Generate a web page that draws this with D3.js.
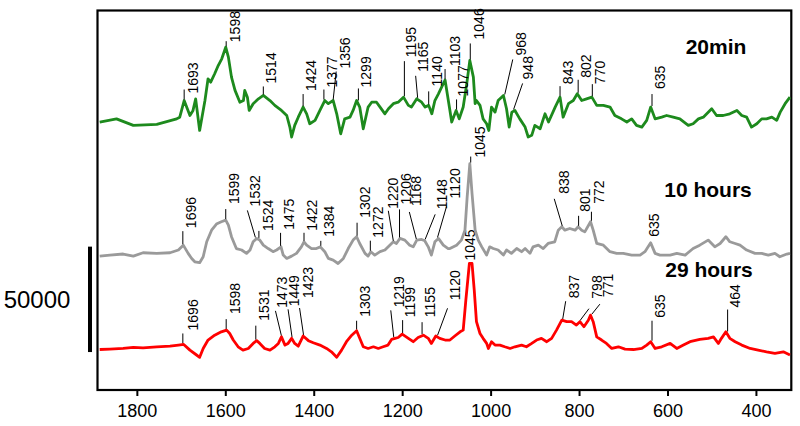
<!DOCTYPE html>
<html>
<head>
<meta charset="utf-8">
<script src="https://cdn.jsdelivr.net/npm/d3@7"></script>
<style>
  html, body { margin: 0; padding: 0; background: #fff; }
  svg { display: block; }
  text { font-family: "Liberation Sans", Arial, Helvetica, sans-serif; }
</style>
</head>
<body>
<svg id="chart" width="800" height="426"></svg>
<script>
// ---------------- DATA (intensity in thousands of counts, offsets included) ----------------
const seriesNames = ["20min", "10 hours", "29 hours"];
const xTicks = [1800, 1600, 1400, 1200, 1000, 800, 600, 400];
const scaleBarCounts = 50000;
const scaleBarStart = 18; // kcounts

const greenWn = [1884,1846,1808,1755,1710,1703,1693,1680,1673,1667,1658,1646,1639,1633,1624,1616,1608,1599,1593,1586,1578,1567,1559,1556,1550,1546,1537,1525,1514,1499,1488,1473,1461,1454,1450,1443,1435,1424,1416,1409,1397,1386,1375,1367,1356,1348,1339,1330,1318,1311,1303,1296,1288,1277,1269,1258,1250,1239,1231,1220,1209,1197,1186,1179,1167,1156,1148,1140,1133,1126,1118,1110,1103,1092,1088,1078,1071,1062,1054,1047,1039,1035,1032,1024,1017,1009,1004,998,990,983,971,964,958,952,945,934,922,915,907,900,888,877,869,854,843,836,824,813,804,794,783,771,760,745,730,719,704,692,681,670,658,647,638,628,613,602,587,572,553,542,530,519,500,489,474,459,443,432,421,410,398,387,376,364,353,345,334,323];
const greenInt = [127.1,128.6,125.5,126.0,128.6,129.4,137.3,130.2,132.6,138.1,123.1,137.3,147.6,146.0,150.0,153.9,157.1,162.6,157.9,148.4,142.1,136.5,137.3,142.1,138.9,132.6,135.8,138.1,139.7,137.3,135.0,132.6,130.2,124.7,120.0,125.5,129.4,134.2,131.0,126.3,127.9,132.6,137.3,135.8,137.3,131.0,121.5,128.6,129.4,132.6,137.3,134.2,123.9,134.2,136.5,136.5,134.2,131.0,133.4,135.8,136.5,138.9,135.0,134.2,138.1,136.5,134.2,135.0,131.0,137.3,140.5,144.0,147.0,132.6,127.1,132.6,128.6,134.2,145.2,156.3,148.4,135.8,137.3,135.0,128.6,126.3,123.1,134.2,131.8,137.3,139.7,133.4,124.7,131.8,132.6,128.6,124.7,120.0,120.8,125.5,123.9,131.0,127.1,134.2,138.9,129.4,135.8,137.3,140.5,137.3,138.1,138.9,135.0,135.0,134.2,130.2,128.6,127.1,128.6,125.5,124.7,127.9,134.2,128.6,129.4,130.2,129.4,128.6,125.5,126.3,128.6,129.4,133.4,130.2,130.2,131.0,132.6,130.2,129.4,124.7,126.3,128.6,128.6,129.4,127.9,131.8,135.8,138.9];

const grayWn = [1884,1861,1831,1808,1786,1755,1725,1706,1695,1684,1676,1669,1658,1650,1642,1631,1620,1609,1599,1593,1586,1575,1563,1552,1544,1537,1529,1522,1514,1503,1492,1484,1474,1469,1461,1450,1439,1428,1422,1416,1405,1394,1385,1375,1367,1356,1345,1333,1322,1311,1303,1296,1284,1277,1271,1262,1250,1239,1228,1220,1213,1205,1194,1183,1175,1167,1156,1149,1141,1134,1126,1118,1107,1096,1092,1077,1066,1058,1053,1047,1042,1035,1028,1020,1009,1002,994,983,971,964,953,941,930,922,911,904,892,881,870,855,847,839,832,821,809,802,794,787,774,768,760,745,730,715,700,681,662,651,638,628,617,594,579,560,542,527,508,493,481,468,459,447,436,421,402,387,372,357,346,330,323];
const grayInt = [63.5,64.0,64.5,63.5,65.1,64.8,65.1,66.4,68.7,64.8,62.4,60.8,60.4,63.2,70.3,75.8,78.7,79.8,80.6,78.2,72.7,67.1,66.4,64.8,66.4,70.3,71.9,71.1,68.7,67.1,65.6,66.4,67.9,64.0,62.4,63.5,64.8,67.9,70.3,68.7,67.1,67.1,67.9,65.6,62.4,61.6,60.0,62.4,67.1,71.1,72.7,69.5,64.8,63.5,65.6,64.0,65.6,66.4,68.7,70.3,69.5,71.9,71.1,68.7,67.9,71.1,71.4,70.8,67.9,64.0,70.3,71.9,68.7,67.1,67.1,68.7,71.1,75.8,91.6,107.4,93.2,75.8,71.1,67.9,64.0,67.9,67.1,66.4,64.0,66.4,64.8,67.1,65.6,67.1,64.8,67.9,68.7,67.1,69.5,70.3,75.8,77.4,75.8,76.6,75.8,77.4,75.8,75.0,79.8,75.8,69.5,68.7,65.6,64.8,64.8,64.0,64.0,65.6,69.8,64.8,64.0,64.0,64.8,64.0,67.1,68.7,71.1,67.9,69.5,72.7,70.3,69.5,68.7,66.4,64.8,64.8,64.0,64.8,63.2,64.5,64.8];

const redWn = [1884,1861,1831,1808,1786,1755,1725,1706,1694,1680,1665,1658,1650,1639,1624,1609,1597,1590,1582,1571,1560,1548,1537,1529,1522,1511,1499,1488,1480,1473,1465,1458,1450,1443,1435,1424,1412,1401,1386,1371,1360,1348,1337,1326,1314,1303,1296,1288,1277,1265,1254,1243,1232,1224,1216,1209,1200,1186,1175,1164,1152,1141,1134,1124,1115,1103,1092,1081,1069,1062,1056,1048,1042,1037,1032,1024,1017,1009,1005,998,990,979,968,956,945,930,919,907,896,885,873,862,851,839,828,817,806,798,789,779,774,768,760,749,738,726,711,696,677,658,647,638,628,613,594,579,564,549,527,508,496,485,478,468,459,447,432,413,395,376,357,338,323];
const redInt = [19.2,19.4,19.7,20.2,20.0,20.5,20.8,21.3,21.6,18.9,16.6,15.5,19.7,23.7,26.0,27.6,28.4,26.8,23.7,20.5,18.9,19.7,22.1,23.4,22.1,19.7,18.9,20.5,22.1,25.2,21.3,22.1,24.5,22.1,20.8,25.6,23.4,22.4,21.3,19.7,18.1,15.5,18.9,22.9,26.0,28.1,24.5,20.5,19.7,20.5,19.7,20.5,21.3,24.0,24.5,24.9,26.5,24.5,22.9,24.9,26.0,24.5,22.1,25.6,24.5,23.7,23.7,25.6,27.6,28.4,42.6,60.0,60.0,47.4,32.4,26.8,24.5,22.1,19.7,22.9,21.3,21.3,20.5,19.7,20.5,21.3,20.5,22.1,23.7,24.5,22.9,24.5,28.4,33.1,32.4,32.4,30.8,32.4,30.0,33.1,35.5,32.4,25.2,23.7,22.1,19.7,20.5,19.4,19.2,19.7,21.3,22.9,19.7,20.5,22.1,19.7,21.3,22.9,24.0,24.5,25.2,22.1,24.5,27.6,24.5,22.9,21.3,19.7,18.9,18.1,17.4,18.1,16.6];

// peak labels (wavenumbers)
const greenPeaks = [1693,1598,1514,1424,1377,1356,1299,1195,1165,1140,1103,1077,1046,968,948,843,802,770,635];
const grayPeaks  = [1696,1599,1532,1524,1475,1422,1384,1302,1272,1220,1206,1168,1148,1120,1045,838,801,772,635];
const redPeaks   = [1696,1598,1531,1473,1449,1423,1303,1219,1199,1155,1120,1045,837,798,771,635,464];

// ---------------- LAYOUT (leader length, leader top dx, text dx, text dy) ----------------
const greenLayout = [[10,0,9,4],[5,0,9,1],[8,0,8,-3],[12,0,8,-3],[10,0,8,-2],[28,3,9,-3],[12,0,8,-1],[35,0,7,-4],[22,-2,7,-4],[13,0,8,-5],[10,0,10,-3],[10,0,6,-3],[16,0,9,-4],[35,8,8,-4],[26,9,5,-4],[10,0,8,-2],[13,0,8,-2],[12,0,8,0],[12,0,8,-5]];
const grayLayout = [[13,0,8,-3],[10,0,8,-5],[27,-8,8,-4],[7,0,9,0],[13,0,8,-3],[8,0,8,-2],[5,0,8,-4],[13,0,8,-5],[10,0,8,-3],[30,-5,5,-2],[28,0,6,-5],[27,-7,7,-6],[25,10,7,-5],[31,9,8,-8],[6,0,9,1],[27,-8,10,-5],[10,0,6,-4],[9,0,8,-8],[0,0,2,-5]];
const redLayout = [[10,0,10,-3],[10,0,9,-5],[14,0,8,-5],[25,-6,7,-3],[28,-4,6,-3],[27,-4,8,-10],[9,0,8,-4],[27,-3,8,-3],[13,0,7,-3],[12,0,8,-5],[27,10,7,-8],[0,0,-1,-2],[18,3,8,-3],[12,9,8,-10],[10,8,8,-7],[20,0,8,-3],[22,0,7,-2]];

// ---------------- DRAW ----------------
const svg = d3.select("#chart");
const L = 97.5, R = 791.3, T = 10.5, B = 390;
const x = d3.scaleLinear().domain([1889, 320]).range([L, R]);
const y = d3.scaleLinear().domain([0, 180]).range([B, T]);

const series = [
  {name: seriesNames[0], wn: greenWn, v: greenInt, peaks: greenPeaks, layout: greenLayout, color: "#1d8a1d", nameX: 716, nameY: 54},
  {name: seriesNames[1], wn: grayWn, v: grayInt, peaks: grayPeaks, layout: grayLayout, color: "#9a9a9a", nameX: 708, nameY: 197},
  {name: seriesNames[2], wn: redWn, v: redInt, peaks: redPeaks, layout: redLayout, color: "#ff0000", nameX: 709, nameY: 277}
];

function valueAt(wn, v, w) {
  for (let i = 0; i < wn.length - 1; i++) {
    const a = wn[i], b = wn[i + 1];
    if ((w <= a && w >= b)) {
      const t = (a - w) / (a - b);
      return v[i] + t * (v[i + 1] - v[i]);
    }
  }
  return v[v.length - 1];
}
function peakValue(wn, v, w) {
  let m = valueAt(wn, v, w);
  for (let d = -3; d <= 3; d++) m = Math.max(m, valueAt(wn, v, w + d));
  return m;
}

// frame
svg.append("rect").attr("x", L).attr("y", T).attr("width", R - L).attr("height", B - T)
  .attr("fill", "none").attr("stroke", "#000").attr("stroke-width", 2.2);

// x axis
const axis = d3.axisBottom(x).tickValues(xTicks).tickSize(6).tickPadding(8).tickFormat(d3.format("d"));
const ag = svg.append("g").attr("transform", `translate(0,${B})`).call(axis);
ag.select(".domain").remove();
ag.selectAll(".tick line").attr("stroke", "#000").attr("stroke-width", 2);
ag.selectAll(".tick text").attr("font-size", 18).attr("fill", "#000")
  .attr("font-family", "'Liberation Sans', Arial, sans-serif");

const labelG = svg.append("g");
const lineGen = d3.line().x(d => x(d[0])).y(d => y(d[1]));

function drawLabels(s, g) {
  s.peaks.forEach((p, i) => {
    const [len, tdx, txd, tyd] = s.layout[i];
    const ax = x(p);
    const ay = y(peakValue(s.wn, s.v, p)) - 1;
    const topX = ax + tdx, topY = ay - len;
    if (len > 0) {
      g.append("line").attr("x1", ax).attr("y1", ay).attr("x2", topX).attr("y2", topY)
        .attr("stroke", "#000").attr("stroke-width", 1);
    }
    g.append("text")
      .attr("transform", `translate(${topX + txd},${topY + tyd}) rotate(-90)`)
      .attr("dy", "0.36em")
      .attr("font-size", 14)
      .attr("fill", "#000")
      .text(p);
  });
}

// red labels drawn first (behind traces), then traces, then others
drawLabels(series[2], labelG);

series.slice().reverse().forEach(s => {
  svg.append("path")
    .datum(s.wn.map((w, i) => [w, s.v[i]]))
    .attr("d", lineGen)
    .attr("fill", "none")
    .attr("stroke", s.color)
    .attr("stroke-width", 2.8)
    .attr("stroke-linejoin", "round");
});

drawLabels(series[0], svg.append("g"));
drawLabels(series[1], svg.append("g"));

// series names
series.forEach(s => {
  svg.append("text").attr("x", s.nameX).attr("y", s.nameY)
    .attr("text-anchor", "middle").attr("font-size", 21).attr("font-weight", "bold")
    .attr("fill", "#000").text(s.name);
});

// scale bar
const barTop = y(scaleBarStart + scaleBarCounts / 1000), barBot = y(scaleBarStart);
svg.append("line").attr("x1", 90).attr("x2", 90).attr("y1", barTop).attr("y2", barBot)
  .attr("stroke", "#000").attr("stroke-width", 4);
svg.append("text").attr("x", 37).attr("y", (barTop + barBot) / 2 + 9)
  .attr("text-anchor", "middle").attr("font-size", 24).attr("fill", "#000")
  .text(d3.format("d")(scaleBarCounts));
</script>
</body>
</html>
